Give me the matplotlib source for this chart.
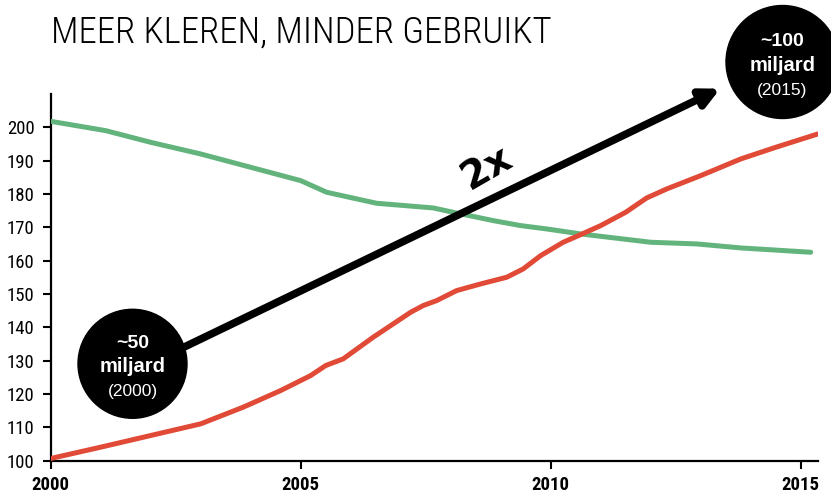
import matplotlib
matplotlib.use('Agg')
import matplotlib.pyplot as plt
from matplotlib.patches import Circle
from matplotlib import font_manager
import numpy as np

# kledingproductie (rood) en gebruik per kledingstuk (groen), index
years_red = [2000.0, 2001.0, 2002.0, 2003.0, 2003.85, 2004.6, 2005.2, 2005.5, 2005.85,
             2006.45, 2006.85, 2007.2, 2007.45, 2007.72, 2008.12, 2008.6, 2009.12,
             2009.45, 2009.8, 2010.25, 2010.6, 2011.0, 2011.5, 2011.92, 2012.32,
             2013.0, 2013.8, 2014.5, 2015.34]
values_red = [100.6, 104.0, 107.5, 111.0, 116.0, 121.0, 125.5, 128.5, 130.5,
              137.0, 141.0, 144.5, 146.5, 148.0, 151.0, 153.0, 155.0,
              157.5, 161.5, 165.5, 167.8, 170.5, 174.5, 178.8, 181.5,
              185.5, 190.5, 194.0, 198.0]

years_green = [2000.0, 2001.1, 2002.0, 2003.0, 2004.0, 2005.0, 2005.52, 2006.52,
               2007.65, 2008.05, 2008.85, 2009.4, 2009.92, 2010.6, 2012.0, 2012.92,
               2013.8, 2015.2]
values_green = [201.8, 199.0, 195.5, 192.0, 188.0, 184.0, 180.5, 177.2,
                175.8, 174.5, 172.0, 170.5, 169.5, 168.0, 165.5, 165.0,
                163.8, 162.5]

x_ticks = [2000, 2005, 2010, 2015]
y_ticks = list(range(100, 201, 10))

title = 'MEER KLEREN, MINDER GEBRUIKT'

# smalste beschikbare letter zoeken
names = set(f.name for f in font_manager.fontManager.ttflist)
narrow_fam = 'DejaVu Sans'
for cand in ['Liberation Sans Narrow', 'Roboto Condensed', 'Open Sans Condensed', 'DejaVu Sans Condensed']:
    if cand in names:
        narrow_fam = cand
        break
has_cond = any(f.name == 'DejaVu Sans' and f.stretch == 'condensed' for f in font_manager.fontManager.ttflist)
narrow = [narrow_fam, 'DejaVu Sans']
stretch = 'condensed' if (narrow_fam == 'DejaVu Sans' and has_cond) else 'normal'

fig = plt.figure(figsize=(8.31, 4.95), dpi=100)
ax = fig.add_axes([50.7 / 831, 34.5 / 495, (817.7 - 50.7) / 831, (460.5 - 94) / 495])

ax.plot(years_green, values_green, color='#62b47c', lw=3.6, solid_capstyle='round', zorder=3)
ax.plot(years_red, values_red, color='#e04a36', lw=3.6, solid_capstyle='round', zorder=3)

ax.set_xlim(2000, 2015.34)
ax.set_ylim(100, 210)
ax.set_xticks(x_ticks)
ax.set_yticks(y_ticks)
ax.set_xticklabels([str(t) for t in x_ticks], family=narrow, fontstretch=stretch,
                   fontweight='bold', fontsize=13.5)
ax.set_yticklabels([str(t) for t in y_ticks], family=narrow, fontstretch=stretch, fontsize=13.5)
ax.tick_params(axis='both', direction='out', length=5.5, width=1.5, color='black', pad=6)
for s in ['top', 'right']:
    ax.spines[s].set_visible(False)
for s in ['left', 'bottom']:
    ax.spines[s].set_linewidth(1.6)

# titel
fig.text(51 / 831, 1 - 43 / 495, title, family=narrow, fontstretch=stretch, fontsize=26.5,
         fontweight='light', ha='left', va='baseline')

# zwarte pijl 2x
ax.annotate('', xy=(2013.39, 211.6), xytext=(2002.69, 134.2), annotation_clip=False,
            arrowprops=dict(arrowstyle='-|>,head_length=1.1,head_width=0.55', lw=5.5,
                            color='black', shrinkA=0, shrinkB=0), zorder=4)
ax.text(2008.72, 187.9, '2x', fontsize=28, fontweight='bold', rotation=30,
        ha='center', va='center', family='DejaVu Sans', zorder=5)

# bolletjes
for cx, cy, r, top, year in [(132.5, 363.8, 54.5, '~50', '(2000)'),
                              (782.5, 62.0, 56.5, '~100', '(2015)')]:
    fx, fy = cx / 831, 1 - cy / 495
    c = Circle((cx / 100, (495 - cy) / 100), r / 100, transform=fig.dpi_scale_trans,
               color='black', zorder=10)
    fig.patches.append(c)
    fig.text(fx, fy + 20 / 495, top, color='white', fontsize=14, fontweight='bold',
             ha='center', va='center', family='Liberation Sans', zorder=11)
    fig.text(fx, fy - 3 / 495, 'miljard', color='white', fontsize=14.5, fontweight='bold',
             ha='center', va='center', family='Liberation Sans', zorder=11)
    fig.text(fx, fy - 28 / 495, year, color='white', fontsize=12.5,
             ha='center', va='center', family='Liberation Sans', zorder=11)

plt.savefig('out.png', dpi=100)
